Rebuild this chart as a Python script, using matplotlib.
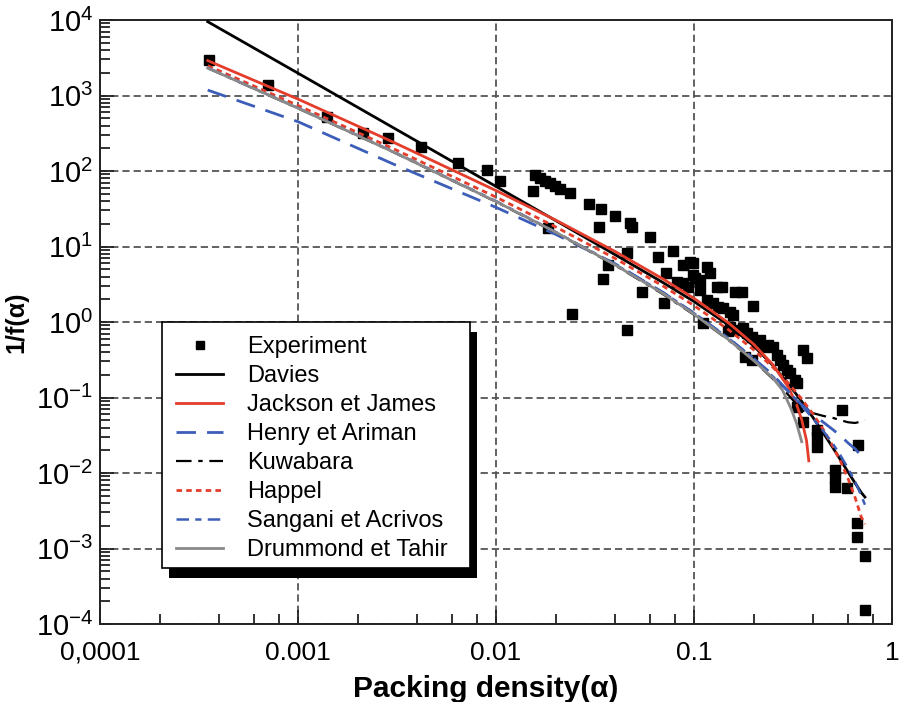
import matplotlib
matplotlib.use("Agg")
import matplotlib.pyplot as plt
from matplotlib.patches import Rectangle
from matplotlib.ticker import FixedLocator, FixedFormatter, LogLocator, NullFormatter

plt.rcParams['font.family'] = ['Liberation Sans', 'DejaVu Sans']
plt.rcParams['mathtext.fontset'] = 'custom'
plt.rcParams['mathtext.rm'] = 'Liberation Sans'
plt.rcParams['mathtext.it'] = 'Liberation Sans:italic'
plt.rcParams['mathtext.bf'] = 'Liberation Sans:bold'

# ---- measured points: packing density vs 1/f(alpha) ----
exp_alpha = [3.55e-4, 7.06e-4, 1.40e-3, 2.13e-3, 2.85e-3, 4.18e-3, 6.43e-3, 9.0e-3,
             0.0105, 0.0154, 0.0157, 0.0167, 0.0177, 0.0187, 0.0199, 0.0210, 0.0236,
             0.0183, 0.0242, 0.0295, 0.0339, 0.0399, 0.0331, 0.0475, 0.0486, 0.0600,
             0.0783, 0.0658, 0.0459, 0.0368, 0.0347, 0.0459, 0.0722, 0.0546, 0.0706,
             0.0880, 0.0955, 0.0988, 0.0821, 0.0880, 0.0933, 0.1012, 0.107, 0.1163,
             0.1205, 0.1307, 0.107, 0.1163, 0.1247, 0.1322, 0.1401, 0.1110, 0.1385,
             0.1611, 0.1748, 0.1986, 0.152, 0.1574, 0.152, 0.1668, 0.1768, 0.1852,
             0.1963, 0.2154, 0.1809, 0.2364, 0.2506, 0.2626, 0.2718, 0.2815, 0.3053,
             0.3236, 0.3313, 0.3553, 0.3722, 0.295, 0.3553, 0.5593, 0.418, 0.418,
             0.418, 0.6737, 0.5153, 0.5153, 0.5153, 0.5925, 0.6658, 0.6658, 0.7306,
             0.7306, 0.148, 0.1963, 0.208, 0.2232, 0.33, 0.0988]
exp_value = [2950, 1380, 519, 319, 274, 208, 128, 103,
             74, 54, 88.5, 80.8, 73.7, 69.3, 63.3, 57.8, 51.1,
             17.6, 1.28, 36.5, 31.4, 25.4, 18.1, 20.5, 18.1, 13.4,
             8.71, 7.26, 8.20, 5.69, 3.71, 0.795, 4.46, 2.50, 1.79,
             5.69, 6.23, 6.05, 3.39, 3.29, 2.91, 3.88, 3.6, 5.35,
             4.46, 2.91, 2.65, 1.96, 1.79, 1.58, 1.53, 0.970, 2.91,
             2.50, 2.50, 1.65, 1.36, 1.24, 0.859, 0.795, 0.83, 0.715,
             0.633, 0.578, 0.344, 0.496, 0.467, 0.366, 0.314, 0.269, 0.211,
             0.171, 0.156, 0.426, 0.333, 0.231, 0.0474, 0.0683, 0.0372, 0.030,
             0.0221, 0.0235, 0.0110, 0.00859, 0.0065, 0.0064, 0.00218, 0.00142, 0.000796,
             0.000153, 0.75, 0.314, 0.527, 0.467, 0.075, 4.19]

# ---- model curves ----
grid_alpha = [3.5e-4, 1e-3, 3e-3, 0.01, 0.02, 0.04, 0.07, 0.1, 0.15, 0.2, 0.25,
              0.3, 0.35, 0.4, 0.45, 0.5, 0.55, 0.6, 0.65, 0.7, 0.73]

davies = [9500, 1976, 380, 62.5, 22.1, 7.78, 3.31, 1.87, 0.905, 0.483, 0.267,
          0.1515, 0.0887, 0.0539, 0.0339, 0.0221, 0.0149, 0.0103, 0.0074, 0.0055, 0.0048]

jackson_alpha = [3.5e-4, 1e-3, 3e-3, 0.01, 0.02, 0.04, 0.07, 0.1, 0.15, 0.2, 0.25,
                 0.3, 0.33, 0.35, 0.37, 0.38]
jackson = [2900, 896, 244, 55.1, 22.4, 8.58, 3.70, 2.06, 0.966, 0.509, 0.273,
           0.1365, 0.080, 0.0509, 0.027, 0.0145]

henry = [1180, 450, 125, 33, 14.5, 5.9, 2.45, 1.3, 0.6, 0.33, 0.2,
         0.12, 0.08, 0.06, 0.047, 0.038, 0.031, 0.025, 0.021, 0.0168, 0.015]

kuwabara = [2306, 676, 180, 39.1, 15.3, 5.62, 2.32, 1.247, 0.571, 0.306, 0.177,
            0.108, 0.0673, 0.062, 0.057, 0.054, 0.050, 0.047, 0.046, 0.048, 0.050]

happel = [2485, 738, 200, 45.1, 18.2, 6.94, 2.98, 1.653, 0.784, 0.429, 0.252,
          0.1538, 0.0957, 0.060, 0.0376, 0.0233, 0.0142, 0.0084, 0.0048, 0.0026, 0.0021]

sangani = [2330, 685, 183, 40, 15.6, 5.8, 2.45, 1.32, 0.61, 0.33, 0.19,
           0.12, 0.078, 0.052, 0.036, 0.025, 0.017, 0.0115, 0.0078, 0.0050, 0.0038]

drummond_alpha = [3.5e-4, 1e-3, 3e-3, 0.01, 0.02, 0.04, 0.07, 0.1, 0.15, 0.2, 0.25,
                  0.28, 0.31, 0.33, 0.35]
drummond = [2315, 679, 181, 39.4, 15.5, 5.69, 2.37, 1.267, 0.579, 0.309, 0.182,
            0.125, 0.070, 0.045, 0.026]

x_ticks = [1e-4, 1e-3, 1e-2, 1e-1, 1]
x_labels = ['0,0001', '0.001', '0.01', '0.1', '1']
y_ticks = [1e-4, 1e-3, 1e-2, 1e-1, 1, 1e1, 1e2, 1e3, 1e4]
y_labels = [r'$\mathregular{10^{-4}}$', r'$\mathregular{10^{-3}}$', r'$\mathregular{10^{-2}}$',
            r'$\mathregular{10^{-1}}$', r'$\mathregular{10^{0}}$', r'$\mathregular{10^{1}}$',
            r'$\mathregular{10^{2}}$', r'$\mathregular{10^{3}}$', r'$\mathregular{10^{4}}$']

RED = '#e43d2c'
BLUE = '#3d5eb8'
GRAY = '#8a8a8a'

fig = plt.figure(figsize=(9, 7.02), dpi=100)
ax = fig.add_axes([0.1111, 0.1111, 0.8800, 0.8604])
ax.set_xscale('log')
ax.set_yscale('log')
ax.set_xlim(1e-4, 1)
ax.set_ylim(1e-4, 1e4)

ax.plot(exp_alpha, exp_value, linestyle='none', marker='s', ms=6.5,
        color='black', label='Experiment', zorder=2)

ax.plot(grid_alpha, davies, color='black', lw=2.0, label='Davies', zorder=3)
ax.plot(jackson_alpha, jackson, color=RED, lw=2.0, label='Jackson et James', zorder=3)
ax.plot(grid_alpha, henry, color=BLUE, lw=2.0, dashes=(7, 4),
        label='Henry et Ariman', zorder=3)
ax.plot(grid_alpha, kuwabara, color='black', lw=1.6, dashes=(7, 3, 2, 3),
        label='Kuwabara', zorder=3)
ax.plot(grid_alpha, happel, color=RED, lw=2.0, dashes=(2, 1.5),
        label='Happel', zorder=3)
ax.plot(grid_alpha, sangani, color=BLUE, lw=1.8, dashes=(5, 2.5, 2.5, 2.5),
        label='Sangani et Acrivos', zorder=3)
ax.plot(drummond_alpha, drummond, color=GRAY, lw=2.0,
        label='Drummond et Tahir', zorder=3)

ax.xaxis.set_major_locator(FixedLocator(x_ticks))
ax.xaxis.set_major_formatter(FixedFormatter(x_labels))
ax.xaxis.set_minor_locator(LogLocator(base=10, subs=(2, 4, 6, 8), numticks=20))
ax.xaxis.set_minor_formatter(NullFormatter())
ax.yaxis.set_major_locator(FixedLocator(y_ticks))
ax.yaxis.set_major_formatter(FixedFormatter(y_labels))
ax.yaxis.set_minor_locator(LogLocator(base=10, subs=(2, 3, 4, 5, 6, 7, 8, 9), numticks=20))
ax.yaxis.set_minor_formatter(NullFormatter())

ax.tick_params(which='both', direction='in', color='#222222', width=1.3)
ax.tick_params(which='major', length=10)
ax.tick_params(which='minor', length=7)
ax.tick_params(axis='x', which='major', labelsize=19, pad=12)
ax.tick_params(axis='y', which='major', labelsize=21, pad=5)

ax.grid(True, which='major', color='#555555', lw=1.3, linestyle=(0, (4, 2.2)))
for sp in ax.spines.values():
    sp.set_linewidth(1.4)
    sp.set_color('#222222')

ax.set_xlabel('Packing density(α)', fontsize=21.5, fontweight='bold')
ax.xaxis.set_label_coords(0.4867, -0.085)
ax.set_ylabel('1/f(α)', fontsize=18, fontweight='bold', labelpad=5)

leg = ax.legend(loc='upper left', bbox_to_anchor=(0.0960, 0.477), borderaxespad=0,
                fontsize=17, frameon=False, numpoints=1,
                handlelength=2.0, handletextpad=1.0, labelspacing=0.3,
                borderpad=0.0, markerscale=0.85)
leg.set_zorder(6)

# legend box with a solid drop shadow, in axes fractions
box_left, box_right, box_bottom, box_top = 0.0783, 0.4672, 0.0927, 0.5000
sx, sy = 7 / 792, 10 / 604
ax.add_patch(Rectangle((box_left + sx, box_bottom - sy), box_right - box_left,
                       box_top - box_bottom, transform=ax.transAxes,
                       facecolor='black', edgecolor='none', clip_on=False, zorder=5.5))
ax.add_patch(Rectangle((box_left, box_bottom), box_right - box_left,
                       box_top - box_bottom, transform=ax.transAxes,
                       facecolor='white', edgecolor='black', lw=1.2,
                       clip_on=False, zorder=5.6))

fig.savefig('out.png', dpi=100)
